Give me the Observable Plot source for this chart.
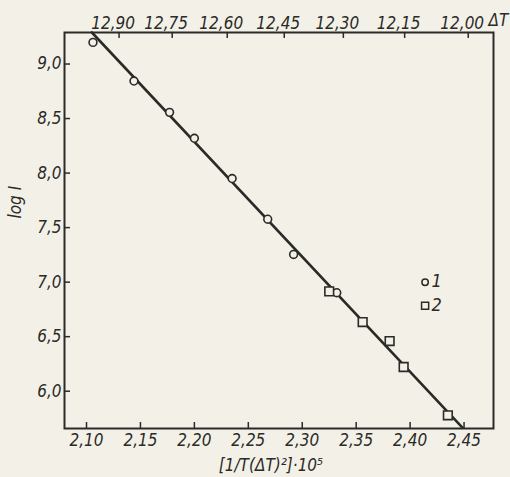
<!DOCTYPE html>
<html>
<head>
<meta charset="utf-8">
<script src="https://cdn.jsdelivr.net/npm/d3@7"></script>
<script src="https://cdn.jsdelivr.net/npm/@observablehq/plot@0.6"></script>
<style>
  html, body { margin: 0; padding: 0; background: #f3f1e7; }
  #chart { width: 510px; height: 477px; }
</style>
</head>
<body>
<div id="chart"></div>
<script>
// ---- data ----
const series1X = [2.106, 2.144, 2.177, 2.200, 2.235, 2.268, 2.292, 2.332];
const series1Y = [9.198, 8.844, 8.557, 8.319, 7.950, 7.577, 7.254, 6.903];
const series2X = [2.325, 2.356, 2.381, 2.394, 2.435];
const series2Y = [6.915, 6.634, 6.460, 6.222, 5.779];
// fitted straight line (end points)
const fitX = [2.105, 2.4485];
const fitY = [9.289, 5.667];
// axis ticks
const xTicks = [2.10, 2.15, 2.20, 2.25, 2.30, 2.35, 2.40, 2.45];
const yTicks = [6.0, 6.5, 7.0, 7.5, 8.0, 8.5, 9.0];
const dTTicks = [12.90, 12.75, 12.60, 12.45, 12.30, 12.15, 12.00];
const Tm = 295; // T = Tm - ΔT for the upper ΔT scale
const legendLabels = ["1", "2"];

// ---- build ----
const ink = "#2a2a28";
const bg = "#f3f1e7";
const font = "'DejaVu Sans Condensed', 'DejaVu Sans', sans-serif";
const comma = (s) => s.replace(".", ",");
const topX = dTTicks.map(t => 1e5 / ((Tm - t) * t * t));
const topLabel = new Map(topX.map((x, i) => [x, comma(dTTicks[i].toFixed(2))]));
const s1 = series1X.map((x, i) => ({x, y: series1Y[i]}));
const s2 = series2X.map((x, i) => ({x, y: series2Y[i]}));
const fit = fitX.map((x, i) => ({x, y: fitY[i]}));

const W = 510, H = 477, mL = 64, mR = 17, mT = 32, mB = 49;
const pw = W - mL - mR, ph = H - mT - mB;

const chart = Plot.plot({
  width: W, height: H,
  marginLeft: mL, marginRight: mR, marginTop: mT, marginBottom: mB,
  x: {domain: [2.0796, 2.4773]},
  y: {domain: [5.658, 9.289]},
  style: {background: "transparent", fontFamily: font, fontSize: "17px", fontStyle: "italic", color: ink, overflow: "visible"},
  marks: [
    Plot.tickX(xTicks, {x: d => d, insetTop: ph - 6, stroke: ink, strokeWidth: 1.5}),
    Plot.tickX(topX, {x: d => d, insetBottom: ph - 6, stroke: ink, strokeWidth: 1.5}),
    Plot.tickY(yTicks, {y: d => d, insetRight: pw - 6, stroke: ink, strokeWidth: 1.5}),
    Plot.axisX({ticks: xTicks, tickSize: 0, tickPadding: 5, tickFormat: d => comma(d.toFixed(2)), label: null, fontSize: 17}),
    Plot.axisX({anchor: "top", ticks: topX, tickSize: 0, tickPadding: 4, dx: -6, tickFormat: d => topLabel.get(d), label: null, fontSize: 17}),
    Plot.axisY({ticks: yTicks, tickSize: 0, tickPadding: 3, tickFormat: d => comma(d.toFixed(1)), label: null, fontSize: 17}),
    Plot.line(fit, {x: "x", y: "y", stroke: ink, strokeWidth: 2.6}),
    Plot.dot(s1, {x: "x", y: "y", r: 3.9, stroke: ink, strokeWidth: 1.6, fill: bg}),
    Plot.dot(s2, {x: "x", y: "y", symbol: "square", r: 4.9, stroke: ink, strokeWidth: 1.6, fill: bg}),
    Plot.frame({stroke: ink, strokeWidth: 2}),
    Plot.text(["ΔT"], {frameAnchor: "top-right", textAnchor: "start", lineAnchor: "middle", dx: -5, dy: -12, fill: ink, fontSize: 17}),
    Plot.text(["log I"], {frameAnchor: "left", rotate: -90, lineAnchor: "middle", dx: -49, dy: -12, fill: ink, fontSize: 17}),
    Plot.text(["[1/T(ΔT)²]·10⁵"], {frameAnchor: "bottom", lineAnchor: "middle", dx: -8, dy: 37, fill: ink, fontSize: 17}),
    // legend
    Plot.dot([legendLabels[0]], {frameAnchor: "top-right", dx: -68.4, dy: 249.7, r: 3.2, stroke: ink, strokeWidth: 1.5, fill: bg}),
    Plot.dot([legendLabels[1]], {frameAnchor: "top-right", dx: -68.4, dy: 273.3, symbol: "square", r: 4, stroke: ink, strokeWidth: 1.5, fill: bg}),
    Plot.text([legendLabels[0]], {frameAnchor: "top-right", textAnchor: "start", lineAnchor: "middle", dx: -62, dy: 249, fill: ink, fontSize: 18}),
    Plot.text([legendLabels[1]], {frameAnchor: "top-right", textAnchor: "start", lineAnchor: "middle", dx: -62, dy: 273, fill: ink, fontSize: 18})
  ]
});
document.getElementById("chart").append(chart);
</script>
</body>
</html>
